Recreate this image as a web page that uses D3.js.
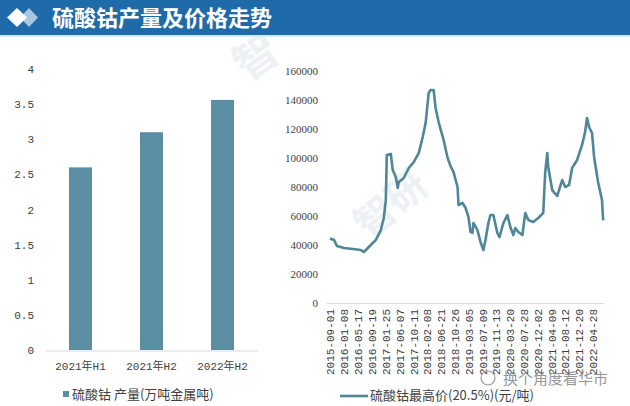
<!DOCTYPE html>
<html>
<head>
<meta charset="utf-8">
<script src="https://cdn.jsdelivr.net/npm/d3@7"></script>
<style>
    body { margin: 0; background: #fff; }
    svg { display: block; }
</style>
</head>
<body>
<div id="chart"></div>
<script>
// Left chart: production
var barCats = ["2021年H1", "2021年H2", "2022年H2"];
var barValues = [2.6, 3.1, 3.56];
var barTicks = [0, 0.5, 1, 1.5, 2, 2.5, 3, 3.5, 4];

// Right chart: price (yuan / ton)
var priceDates = [
    "2015-09-01", "2015-10-08", "2015-11-04", "2016-01-08", "2016-03-31", "2016-06-12",
    "2016-07-10", "2016-08-25", "2016-10-29", "2016-12-14", "2017-01-10", "2017-01-29",
    "2017-02-07", "2017-03-16", "2017-04-03", "2017-05-01", "2017-05-19", "2017-05-29",
    "2017-07-14", "2017-08-29", "2017-10-14", "2017-11-29", "2018-01-05", "2018-02-01",
    "2018-03-01", "2018-03-19", "2018-04-16", "2018-05-04", "2018-06-01", "2018-07-17",
    "2018-08-23", "2018-09-19", "2018-10-17", "2018-11-23", "2018-12-02", "2019-01-08",
    "2019-02-05", "2019-03-04", "2019-03-23", "2019-04-10", "2019-04-19", "2019-05-26",
    "2019-06-23", "2019-07-20", "2019-08-08", "2019-09-04", "2019-09-23", "2019-10-20",
    "2019-11-26", "2019-12-15", "2020-01-21", "2020-02-26", "2020-03-25", "2020-04-22",
    "2020-05-10", "2020-06-07", "2020-07-14", "2020-08-10", "2020-09-07", "2020-10-23",
    "2020-12-08", "2021-01-23", "2021-02-10", "2021-03-01", "2021-03-10", "2021-04-16",
    "2021-06-01", "2021-07-17", "2021-08-14", "2021-09-19", "2021-10-17", "2021-12-02",
    "2022-01-17", "2022-02-14", "2022-03-04", "2022-03-23", "2022-04-19", "2022-05-08",
    "2022-06-14", "2022-07-20", "2022-07-31"
];
var priceValues = [
    44500, 43500, 39300, 37900, 37200, 36500,
    35200, 38600, 43500, 50300, 58600, 71000,
    102000, 102800, 91700, 86900, 79300, 83500,
    86200, 93100, 97200, 103400, 114500, 124100,
    144800, 146900, 146900, 134500, 124800, 112400,
    100000, 94500, 90300, 80000, 67600, 69000,
    65500, 59300, 49000, 48300, 55200, 50300,
    42100, 36500, 43500, 55200, 60700, 60700,
    48300, 45500, 55200, 60700, 52400, 46900,
    51700, 49000, 46900, 62100, 57200, 55900,
    58600, 62100, 89700, 103400, 93800, 77900,
    73800, 84800, 80000, 81400, 93100, 98600,
    109000, 117900, 127600, 121400, 117200, 100700,
    83500, 71000, 57000
];
var dateTicks = [
    "2015-09-01", "2016-01-08", "2016-05-17", "2016-09-19", "2017-01-25",
    "2017-06-07", "2017-10-11", "2018-02-08", "2018-06-21", "2018-10-26",
    "2019-03-05", "2019-07-09", "2019-11-13", "2020-03-20", "2020-07-28",
    "2020-12-02", "2021-04-09", "2021-08-12", "2021-12-20", "2022-04-28"
];
var priceTicks = [0, 20000, 40000, 60000, 80000, 100000, 120000, 140000, 160000];

var w = 630;
var h = 406;
var cjk = "'Noto Sans CJK SC', sans-serif";
var mono = "'Liberation Mono', 'Noto Sans CJK SC', monospace";

var svg = d3.select("#chart")
    .append("svg")
    .attr("width", w)
    .attr("height", h);

// Faint watermarks
var marks = [
    { t: "智", x: 265, y: 70, r: -35, s: 44 },
    { t: "智研", x: 400, y: 215, r: -40, s: 40 }
];
svg.selectAll(".wm")
    .data(marks)
    .enter()
    .append("text")
    .attr("class", "wm")
    .attr("transform", d => `translate(${d.x},${d.y}) rotate(${d.r})`)
    .attr("text-anchor", "middle")
    .style("font-family", cjk)
    .style("font-weight", "bold")
    .style("font-size", d => d.s + "px")
    .style("fill", "#eef1f4")
    .text(d => d.t);

// Title band
svg.append("rect")
    .attr("x", 0).attr("y", 0)
    .attr("width", w).attr("height", 35)
    .attr("fill", "#1f6aa8");
svg.append("rect")
    .attr("x", 0).attr("y", 35)
    .attr("width", w).attr("height", 2)
    .attr("fill", "#dde9f3");
svg.append("polygon")
    .attr("points", "29,8 38,17.5 29,27 20,17.5")
    .attr("fill", "#a8c6e2");
svg.append("polygon")
    .attr("points", "17,8 27,17.5 17,27 7,17.5")
    .attr("fill", "#ffffff");
svg.append("text")
    .attr("x", 52)
    .attr("y", 26)
    .style("font-family", cjk)
    .style("font-weight", "bold")
    .style("font-size", "22px")
    .style("fill", "#ffffff")
    .text("硫酸钴产量及价格走势");

// ---- Left bar chart ----
var xBar = d3.scaleBand()
    .domain(barCats)
    .range([45, 258]);

var yBar = d3.scaleLinear()
    .domain([0, 4])
    .range([350, 69]);

var yAxisL = d3.axisLeft(yBar)
    .tickValues(barTicks)
    .tickSize(0)
    .tickPadding(0)
    .tickFormat(d => String(d));

svg.append("g")
    .attr("transform", "translate(34,0)")
    .call(yAxisL)
    .call(g => g.select(".domain").remove())
    .selectAll("text")
    .style("font-family", mono)
    .style("font-size", "11px")
    .style("fill", "#404040");

var barW = 23;
svg.selectAll(".bar")
    .data(barValues)
    .enter()
    .append("rect")
    .attr("class", "bar")
    .attr("x", (d, i) => xBar(barCats[i]) + xBar.bandwidth() / 2 - barW / 2)
    .attr("y", d => yBar(d))
    .attr("width", barW)
    .attr("height", d => yBar(0) - yBar(d))
    .attr("fill", "#5b8ea2");

var xAxisL = d3.axisBottom(xBar)
    .tickSize(0)
    .tickPadding(12);

svg.append("g")
    .attr("transform", "translate(0,350.5)")
    .call(xAxisL)
    .call(g => g.select(".domain").attr("stroke", "#d9d9d9"))
    .selectAll("text")
    .style("font-family", mono)
    .style("font-size", "11px")
    .style("fill", "#404040");

// left legend
svg.append("rect")
    .attr("x", 63).attr("y", 391)
    .attr("width", 6).attr("height", 6)
    .attr("fill", "#5b8ea2");
svg.append("text")
    .attr("x", 72)
    .attr("y", 399)
    .style("font-family", cjk)
    .style("font-size", "13px")
    .style("fill", "#404040")
    .text("硫酸钴 产量(万吨金属吨)");

// ---- Right line chart ----
var parse = d3.timeParse("%Y-%m-%d");
var series = priceDates.map((d, i) => ({ date: parse(d), value: priceValues[i] }));

var xLine = d3.scaleTime()
    .domain([parse("2015-09-01"), parse("2022-04-28")])
    .range([330, 593]);

var yLine = d3.scaleLinear()
    .domain([0, 160000])
    .range([303, 71]);

var yAxisR = d3.axisLeft(yLine)
    .tickValues(priceTicks)
    .tickSize(0)
    .tickPadding(0)
    .tickFormat(d3.format("d"));

svg.append("g")
    .attr("transform", "translate(318,0)")
    .call(yAxisR)
    .call(g => g.select(".domain").remove())
    .selectAll("text")
    .style("font-family", "'Liberation Serif', serif")
    .style("font-size", "11px")
    .style("fill", "#404040");

// baseline
svg.append("line")
    .attr("x1", 327)
    .attr("x2", 604)
    .attr("y1", yLine(0) + 0.5)
    .attr("y2", yLine(0) + 0.5)
    .attr("stroke", "#d9d9d9");

var xAxisR = d3.axisBottom(xLine)
    .tickValues(dateTicks.map(parse))
    .tickSize(0)
    .tickFormat(d3.timeFormat("%Y-%m-%d"));

svg.append("g")
    .attr("transform", `translate(0,${yLine(0)})`)
    .call(xAxisR)
    .call(g => g.select(".domain").remove())
    .selectAll("text")
    .attr("transform", "rotate(-90)")
    .attr("text-anchor", "end")
    .attr("x", -6)
    .attr("y", 0)
    .attr("dy", "0.35em")
    .style("font-family", mono)
    .style("font-size", "11px")
    .style("fill", "#404040");

var line = d3.line()
    .x(d => xLine(d.date))
    .y(d => yLine(d.value));

svg.append("path")
    .datum(series)
    .attr("d", line)
    .attr("fill", "none")
    .attr("stroke", "#4f8698")
    .attr("stroke-width", 2.6)
    .attr("stroke-linejoin", "round");

// right legend
svg.append("line")
    .attr("x1", 340).attr("x2", 368)
    .attr("y1", 396).attr("y2", 396)
    .attr("stroke", "#4f8698")
    .attr("stroke-width", 2.6);
svg.append("text")
    .attr("x", 370)
    .attr("y", 400)
    .style("font-family", cjk)
    .style("font-size", "13px")
    .style("fill", "#404040")
    .text("硫酸钴最高价(20.5%)(元/吨)");

// wechat watermark
svg.append("circle")
    .attr("cx", 488).attr("cy", 378)
    .attr("r", 7)
    .attr("fill", "none")
    .attr("stroke", "#9a9a9a")
    .attr("stroke-width", 1.2);
svg.append("text")
    .attr("x", 503)
    .attr("y", 384)
    .style("font-family", cjk)
    .style("font-size", "15px")
    .style("fill", "#8c8c8c")
    .style("opacity", 0.9)
    .text("换个角度看华市");
</script>
</body>
</html>
